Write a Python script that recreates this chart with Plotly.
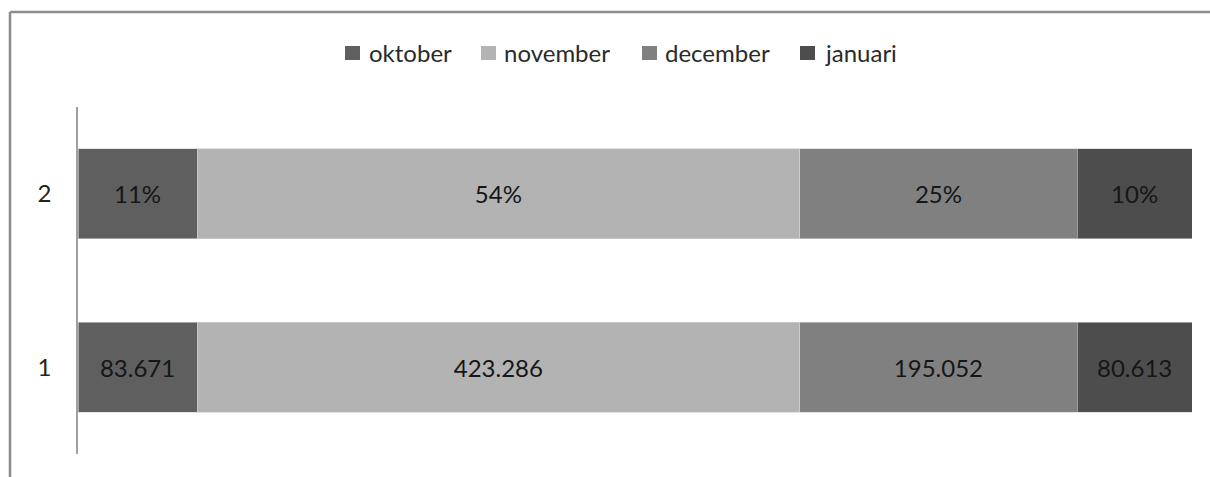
import plotly.graph_objects as go

categories = ["1", "2"]
series_names = ["oktober", "november", "december", "januari"]
series_values = [83671, 423286, 195052, 80613]
colors = ["#5f5f5f", "#b3b3b3", "#808080", "#4d4d4d"]

total = sum(series_values)

def fmt_thousands(v):
    return f"{v:,}".replace(",", ".")

W, H = 1210, 477
ML, MR, MT, MB = 78, 18, 107, 23
PW, PH = W - ML - MR, H - MT - MB

def px_x(p):
    return (p - ML) / PW

def px_y(p):
    return (H - MB - p) / PH

fig = go.Figure()
for name, val, col in zip(series_names, series_values, colors):
    pct = round(100 * val / total)
    fig.add_trace(go.Bar(
        name=name,
        y=categories,
        x=[val, val],
        orientation="h",
        marker=dict(color=col, line=dict(color="#d0d0d0", width=0.6)),
        text=[fmt_thousands(val), f"{pct}%"],
        textposition="inside",
        insidetextanchor="middle",
        textfont=dict(color="#161616", size=24, family="Lato"),
        width=0.52,
        hoverinfo="skip",
        showlegend=False,
    ))

fig.update_layout(
    barmode="stack",
    barnorm="fraction",
    width=W, height=H,
    margin=dict(l=ML, r=MR, t=MT, b=MB),
    paper_bgcolor="white",
    plot_bgcolor="white",
    font=dict(family="Lato", size=24, color="#222222"),
    showlegend=False,
    xaxis=dict(range=[0, 1], visible=False, showgrid=False, zeroline=False),
    yaxis=dict(
        range=[-0.5, 1.5],
        showgrid=False, zeroline=False,
        showline=True, linecolor="#a0a0a0", linewidth=1.5,
        ticks="", ticklabelstandoff=20,
        tickfont=dict(size=24, color="#222222"),
    ),
    uniformtext=dict(mode="show", minsize=10),
)

# legend drawn manually (square + label) to match the reference spacing
legend_square_left = [345, 481, 642, 800]
legend_text_left = [367, 502, 663, 823]
legend_cy = 53
for name, col, sx, tx in zip(series_names, colors, legend_square_left, legend_text_left):
    fig.add_shape(type="rect", xref="paper", yref="paper",
                  x0=px_x(sx), x1=px_x(sx + 15),
                  y0=px_y(legend_cy + 7), y1=px_y(legend_cy - 7),
                  fillcolor=col, line=dict(width=0))
    fig.add_annotation(xref="paper", yref="paper",
                       x=px_x(tx), y=px_y(legend_cy),
                       xanchor="left", yanchor="middle",
                       text=name, showarrow=False,
                       font=dict(size=24, color="#2a2a2a", family="Lato"))

# outer chart frame (top and left edges visible)
fig.add_shape(type="line", xref="paper", yref="paper",
              x0=px_x(10), x1=1.2, y0=px_y(12), y1=px_y(12),
              line=dict(color="#8c8c8c", width=2.5))
fig.add_shape(type="line", xref="paper", yref="paper",
              x0=px_x(10), x1=px_x(10), y0=px_y(12), y1=-0.2,
              line=dict(color="#8c8c8c", width=2.5))

fig.write_html("out.html",
               config={"displayModeBar": False},
               post_script="document.body.style.margin='0';document.body.style.padding='0';")
